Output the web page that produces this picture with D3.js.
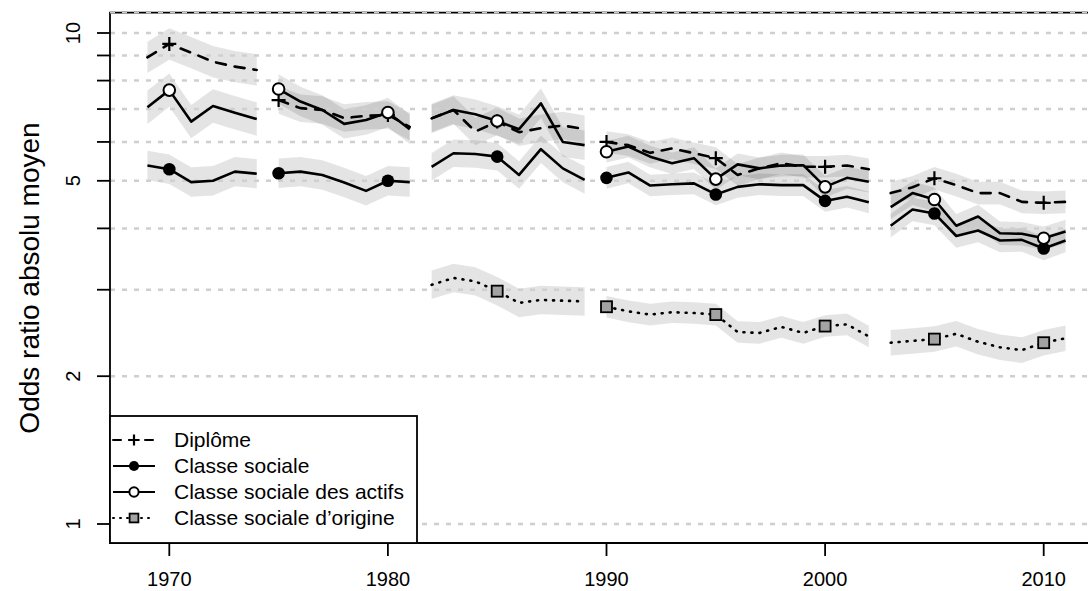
<!DOCTYPE html>
<html>
<head>
<meta charset="utf-8">
<script src="https://cdn.jsdelivr.net/npm/d3@7"></script>
<style>
  body { margin: 0; background: #fff; }
  text { font-family: "Liberation Sans", Arial, Helvetica, sans-serif; fill: #000; }
</style>
</head>
<body>
<div id="chart"></div>
<script>
// années couvertes (cinq périodes séparées)
const years = [1969,1970,1971,1972,1973,1974,
               1975,1976,1977,1978,1979,1980,1981,
               1982,1983,1984,1985,1986,1987,1988,1989,
               1990,1991,1992,1993,1994,1995,1996,1997,1998,1999,2000,2001,2002,
               2003,2004,2005,2006,2007,2008,2009,2010,2011];
const periodStarts = [1969, 1975, 1982, 1990, 2003];
const markerYears = [1970, 1975, 1980, 1985, 1990, 1995, 2000, 2005, 2010];

const diplome = [8.92,9.50,9.12,8.74,8.54,8.41,
                 7.30,7.03,6.97,6.71,6.78,6.81,6.44,
                 6.70,6.97,6.30,6.60,6.28,6.40,6.48,6.37,
                 6.00,5.91,5.70,5.82,5.69,5.56,5.14,5.30,5.43,5.34,5.34,5.37,5.28,
                 4.72,4.85,5.06,4.90,4.72,4.72,4.53,4.51,4.53];
const classeSociale = [5.37,5.28,4.97,5.00,5.22,5.17,
                       5.18,5.22,5.14,4.96,4.77,5.00,4.97,
                       5.34,5.69,5.67,5.60,5.14,5.80,5.30,5.02,
                       5.07,5.20,4.89,4.92,4.94,4.69,4.86,4.92,4.90,4.90,4.55,4.64,4.52,
                       4.05,4.37,4.29,3.86,3.96,3.78,3.79,3.64,3.78];
const classeActifs = [7.06,7.65,6.60,7.10,6.88,6.68,
                      7.69,7.25,6.97,6.53,6.65,6.89,6.37,
                      6.70,6.97,6.83,6.62,6.37,7.19,6.00,5.91,
                      5.73,5.87,5.60,5.43,5.56,5.04,5.40,5.30,5.37,5.38,4.86,5.07,4.98,
                      4.42,4.72,4.58,4.05,4.23,3.91,3.90,3.82,3.94];
const classeOrigine = [null,null,null,null,null,null,
                       null,null,null,null,null,null,null,
                       3.07,3.17,3.12,2.98,2.82,2.86,2.85,2.84,
                       2.77,2.71,2.67,2.70,2.69,2.67,2.46,2.45,2.52,2.45,2.53,2.55,2.41,
                       2.34,2.36,2.38,2.44,2.35,2.29,2.26,2.34,2.39];

// demi-largeur des intervalles (en log10), par période
const bandDiplome = [0.032, 0.028, 0.028, 0.022, 0.023];
const bandSociale = [0.030, 0.030, 0.028, 0.022, 0.024];
const bandActifs  = [0.034, 0.030, 0.030, 0.022, 0.024];
const bandOrigine = [null, null, 0.029, 0.022, 0.026];

const yTicks = [1, 2, 3, 4, 5, 6, 7, 8, 9, 10];
const yLabels = [1, 2, 5, 10];
const gridValues = [1, 2, 3, 4, 5, 6, 7, 8, 9, 10, 11];
const xTicks = [1970, 1980, 1990, 2000, 2010];

const W = 1088, H = 591;
const plot = {left: 110, top: 13, right: 1100, bottom: 543};

const x = d3.scaleLinear().domain([1970, 2010]).range([169.3, 1043.7]);
const y = d3.scaleLog().domain([1, 10]).range([524, 33]);

const svg = d3.select("#chart").append("svg")
    .attr("width", W).attr("height", H);

const series = [
  {name: "Diplôme", values: diplome, band: bandDiplome, dash: "10,9", marker: "plus"},
  {name: "Classe sociale", values: classeSociale, band: bandSociale, dash: null, marker: "dot"},
  {name: "Classe sociale des actifs", values: classeActifs, band: bandActifs, dash: null, marker: "circle"},
  {name: "Classe sociale d\u2019origine", values: classeOrigine, band: bandOrigine, dash: "1,7", marker: "square"}
];

const periodOf = yr => periodStarts.filter(s => s <= yr).length - 1;

function pointsByPeriod(s) {
  const groups = periodStarts.map(() => []);
  years.forEach((yr, i) => {
    if (s.values[i] != null) groups[periodOf(yr)].push({year: yr, v: s.values[i], p: periodOf(yr)});
  });
  return groups.filter(g => g.length);
}

// bandes de confiance
const area = d3.area()
    .x(d => x(d.year))
    .y0(d => y(d.v / Math.pow(10, d.e)))
    .y1(d => y(d.v * Math.pow(10, d.e)));

series.forEach(s => {
  pointsByPeriod(s).forEach(g => {
    const e = s.band[g[0].p];
    svg.append("path")
      .datum(g.map(d => ({...d, e: e})))
      .attr("d", area)
      .attr("fill", "rgba(0,0,0,0.105)");
  });
});

// lignes de grille
svg.append("g").selectAll("line")
  .data(gridValues).enter().append("line")
    .attr("x1", plot.left).attr("x2", plot.right)
    .attr("y1", d => y(d)).attr("y2", d => y(d))
    .attr("stroke", "#cfcfcf")
    .attr("stroke-width", 2.5)
    .attr("stroke-dasharray", "5,7");

// cadre
svg.append("path")
  .attr("d", `M${plot.right},${y(11)}H${plot.left}V${plot.bottom}H${plot.right}`)
  .attr("fill", "none").attr("stroke", "#000").attr("stroke-width", 1.8);
svg.append("line")
  .attr("x1", plot.left).attr("x2", plot.right)
  .attr("y1", y(11)).attr("y2", y(11))
  .attr("stroke", "#cfcfcf").attr("stroke-width", 1.5).attr("stroke-dasharray", "5,7");

// courbes
const line = d3.line().x(d => x(d.year)).y(d => y(d.v));

series.forEach(s => {
  pointsByPeriod(s).forEach(g => {
    svg.append("path")
      .datum(g)
      .attr("d", line)
      .attr("fill", "none")
      .attr("stroke", "#000")
      .attr("stroke-width", 2.6)
      .attr("stroke-linecap", s.dash ? "round" : "butt")
      .attr("stroke-linejoin", "round")
      .attr("stroke-dasharray", s.dash);
  });
});

function drawMarker(g, type, cx, cy, k) {
  if (type === "plus") {
    g.append("path")
      .attr("d", `M${cx - 7 * k},${cy}H${cx + 7 * k}M${cx},${cy - 7 * k}V${cy + 7 * k}`)
      .attr("stroke", "#000").attr("stroke-width", 2.2);
  } else if (type === "dot") {
    g.append("circle").attr("cx", cx).attr("cy", cy).attr("r", 6.3 * k).attr("fill", "#000");
  } else if (type === "circle") {
    g.append("circle").attr("cx", cx).attr("cy", cy).attr("r", 5.8 * k)
      .attr("fill", "#fff").attr("stroke", "#000").attr("stroke-width", 2);
  } else {
    g.append("rect").attr("x", cx - 5.5 * k).attr("y", cy - 5.5 * k)
      .attr("width", 11 * k).attr("height", 11 * k)
      .attr("fill", "#a3a3a3").attr("stroke", "#000").attr("stroke-width", 1.8);
  }
}

const markers = svg.append("g");
series.forEach(s => {
  markerYears.forEach(yr => {
    const v = s.values[years.indexOf(yr)];
    if (v != null) drawMarker(markers, s.marker, x(yr), y(v), 1);
  });
});

// axe y
const yAxis = svg.append("g");
yAxis.selectAll("line").data(yTicks).enter().append("line")
  .attr("x1", plot.left - 13).attr("x2", plot.left)
  .attr("y1", d => y(d)).attr("y2", d => y(d))
  .attr("stroke", "#000").attr("stroke-width", 1.8);
yAxis.selectAll("text").data(yLabels).enter().append("text")
  .attr("transform", d => `translate(80,${y(d)}) rotate(-90)`)
  .attr("text-anchor", "middle")
  .style("font-size", "20px")
  .text(d => d);

svg.append("text")
  .attr("transform", `translate(39,${(plot.top + plot.bottom) / 2}) rotate(-90)`)
  .attr("text-anchor", "middle")
  .style("font-size", "28px")
  .text("Odds ratio absolu moyen");

// axe x
const xAxis = svg.append("g");
xAxis.selectAll("line").data(xTicks).enter().append("line")
  .attr("x1", d => x(d)).attr("x2", d => x(d))
  .attr("y1", plot.bottom).attr("y2", plot.bottom + 13)
  .attr("stroke", "#000").attr("stroke-width", 1.8);
xAxis.selectAll("text").data(xTicks).enter().append("text")
  .attr("x", d => x(d)).attr("y", 586)
  .attr("text-anchor", "middle")
  .style("font-size", "20px")
  .text(d => d);

// légende
const leg = svg.append("g");
leg.append("rect")
  .attr("x", plot.left).attr("y", 416)
  .attr("width", 307).attr("height", plot.bottom - 416)
  .attr("fill", "#fff").attr("stroke", "#000").attr("stroke-width", 1.8);
series.forEach((s, i) => {
  const ry = 440 + i * 26;
  leg.append("line")
    .attr("x1", 113).attr("x2", 155).attr("y1", ry).attr("y2", ry)
    .attr("stroke", "#000").attr("stroke-width", 2)
    .attr("stroke-linecap", s.dash ? "round" : "butt")
    .attr("stroke-dasharray", s.dash ? (s.marker === "plus" ? "8,8" : "1,6") : null);
  drawMarker(leg, s.marker, 134, ry, 0.8);
  leg.append("text")
    .attr("x", 174).attr("y", ry + 7)
    .style("font-size", "21px")
    .text(s.name);
});
</script>
</body>
</html>
